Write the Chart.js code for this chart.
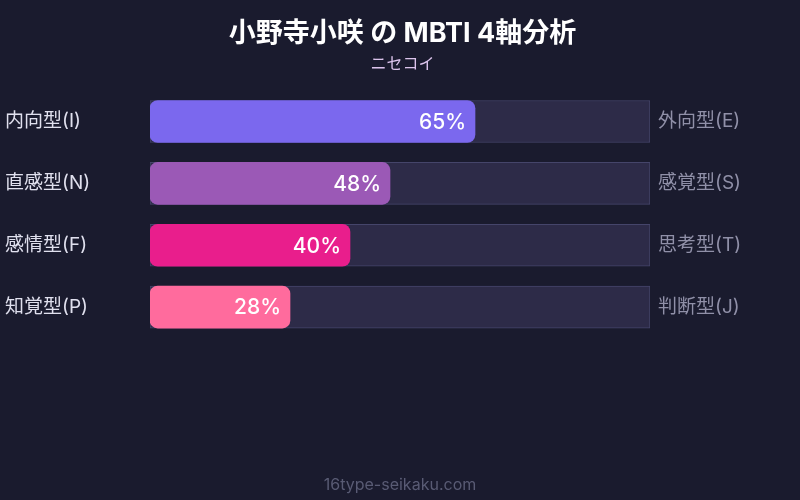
<!DOCTYPE html>
<html lang="ja">
<head>
<meta charset="utf-8">
<title>小野寺小咲 の MBTI 4軸分析</title>
<script src="https://cdn.jsdelivr.net/npm/chart.js@4.4.1/dist/chart.umd.min.js"></script>
<style>
  html, body { margin: 0; padding: 0; background: #1a1b2e; }
  canvas { display: block; }
</style>
</head>
<body>
<canvas id="mbtiChart" width="800" height="500"></canvas>
<script>
// datos del gráfico
const leftLabels = ['内向型(I)', '直感型(N)', '感情型(F)', '知覚型(P)'];
const rightLabels = ['外向型(E)', '感覚型(S)', '思考型(T)', '判断型(J)'];
const scores = [65, 48, 40, 28];
const trackValues = [100, 100, 100, 100];
const barColors = ['#7b68ee', '#9b59b6', '#e91e8c', '#ff6b9d'];

const FONT = "Inter, 'Noto Sans CJK JP', sans-serif";

// fondo del canvas
const backgroundPlugin = {
    id: 'fondo',
    beforeDraw(chart) {
        const ctx = chart.ctx;
        ctx.save();
        ctx.fillStyle = '#1a1b2e';
        ctx.fillRect(0, 0, chart.width, chart.height);
        ctx.restore();
    }
};

// porcentajes dentro de las barras y pie de página
const labelsPlugin = {
    id: 'etiquetas',
    afterDatasetsDraw(chart) {
        const ctx = chart.ctx;
        const meta = chart.getDatasetMeta(0);
        ctx.save();
        ctx.font = '500 21px ' + FONT;
        ctx.fillStyle = '#ffffff';
        ctx.textAlign = 'right';
        ctx.textBaseline = 'middle';
        meta.data.forEach((bar, i) => {
            ctx.fillText(scores[i] + '%', bar.x - 9, bar.y + 1);
        });
        // pie de página
        ctx.font = '16px ' + FONT;
        ctx.fillStyle = '#595b74';
        ctx.textAlign = 'center';
        ctx.fillText('16type-seikaku.com', chart.width / 2, 485);
        ctx.restore();
    }
};

new Chart(document.getElementById('mbtiChart'), {
    type: 'bar',
    data: {
        labels: leftLabels,
        datasets: [{
            label: 'score',
            data: scores,
            backgroundColor: barColors,
            borderRadius: 8,
            borderSkipped: false,
            barThickness: 42,
            grouped: false,
            order: 1
        }, {
            label: 'track',
            data: trackValues,
            backgroundColor: '#2d2b48',
            borderColor: '#45456a',
            borderWidth: 1,
            borderSkipped: false,
            barThickness: 42,
            grouped: false,
            order: 2
        }]
    },
    options: {
        indexAxis: 'y',
        responsive: false,
        animation: false,
        layout: {
            padding: { left: 5, right: 0, top: 4, bottom: 162 }
        },
        scales: {
            x: {
                display: false,
                min: 0,
                max: 100
            },
            y: {
                position: 'left',
                grid: { display: false },
                border: { display: false },
                ticks: {
                    color: '#e0e0ee',
                    font: { family: FONT, size: 19 },
                    crossAlign: 'far',
                    padding: 8
                },
                afterFit(scale) { scale.width = 145; }
            },
            y2: {
                type: 'category',
                labels: rightLabels,
                position: 'right',
                offset: true,
                grid: { display: false },
                border: { display: false },
                ticks: {
                    color: '#9090a8',
                    font: { family: FONT, size: 19 },
                    crossAlign: 'near',
                    padding: 0
                },
                afterFit(scale) { scale.width = 150; }
            }
        },
        plugins: {
            legend: { display: false },
            tooltip: { enabled: false },
            title: {
                display: true,
                text: '小野寺小咲 の MBTI 4軸分析',
                color: '#ffffff',
                font: { family: FONT, size: 27, weight: 'bold' },
                padding: { top: 14, bottom: 4 }
            },
            subtitle: {
                display: true,
                text: 'ニセコイ',
                color: '#dcc4ec',
                font: { family: FONT, size: 16 },
                padding: { top: 0, bottom: 17 }
            }
        }
    },
    plugins: [backgroundPlugin, labelsPlugin]
});
</script>
</body>
</html>
